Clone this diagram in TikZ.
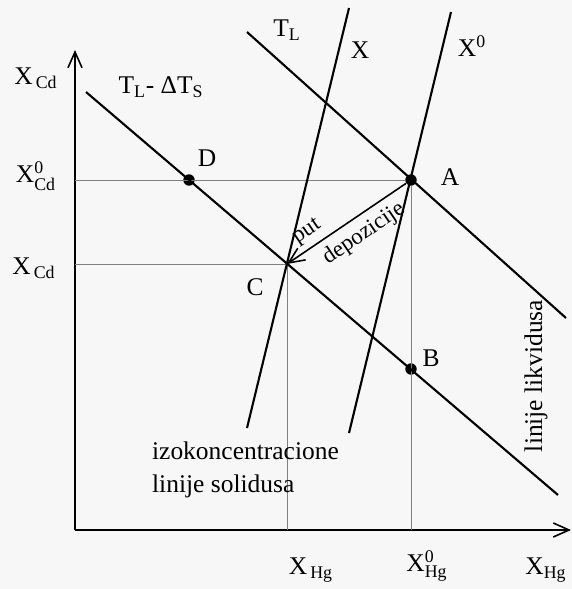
\documentclass[tikz,border=0pt]{standalone}
\usepackage{amsmath}
\usepackage{fontspec}
\setmainfont{Liberation Serif}
\usetikzlibrary{arrows.meta}
\tikzset{
    >={Straight Barb[length=9pt, width=8pt]}, % open arrow heads
    axis/.style={line width=0.9pt, ->},
    isoline/.style={line width=1.2pt}, % the four straight lines
    guide/.style={gray, line width=0.5pt},
    dot/.style={circle, fill, inner sep=0pt, minimum size=6.5pt},
    lbl/.style={font=\fontsize{14.5}{19}\selectfont, inner sep=1pt},
    small/.style={font=\fontsize{13}{15}\selectfont, inner sep=1pt}
}
\newcommand{\Xsb}[2]{X$^{\text{#1}}_{\text{#2}}$}

\begin{document}
\begin{tikzpicture}[x=0.02cm, y=-0.02cm]
    \path[use as bounding box, fill=black!3] (0,0) rectangle (572,589);

    % axes
    \coordinate (O) at (75,530);
    \coordinate (ytip) at (75,50);
    \coordinate (xtip) at (571,530);
    \draw[axis] (O) -- (ytip);
    \draw[axis] (O) -- (xtip);

    % intersection points
    \coordinate (C) at (287,264);
    \node[dot] (A) at (411,180) {};
    \node[dot] (D) at (189,180) {};
    \node[dot] (B) at (411,369) {};

    % guide lines
    \draw[guide] (O |- A) -- (A);
    \draw[guide] (O |- C) -- (C);
    \draw[guide] (C) -- (C |- O);
    \draw[guide] (A) -- (A |- O);

    % line ends
    \coordinate (s1) at (86,92);   \coordinate (s2) at (558,495);
    \coordinate (l1) at (247,32);  \coordinate (l2) at (566,318);
    \coordinate (x1) at (349,8);   \coordinate (x2) at (247,428);
    \coordinate (y1) at (451,12);  \coordinate (y2) at (349,433);
    \draw[isoline] (s1) -- (s2);
    \draw[isoline] (l1) -- (l2);
    \draw[isoline] (x1) -- (x2);
    \draw[isoline] (y1) -- (y2);

    \draw[<-, line width=0.9pt] (C) -- (A)
        node[pos=0.24, sloped, above=2pt, small] {put}
        node[pos=0.56, sloped, below=3pt, small] {depozicije};

    % labels
    \node[lbl] (ycd) at (36,78) {X$_{\text{\,Cd}}$};
    \node[lbl] (ycd0) at (36,176) {\Xsb{0}{Cd}};
    \node[lbl] (ycdc) at (34,268) {X$_{\text{\,Cd}}$};
    \node[lbl] (tsol) at (161,87) {T$_{\text{L}}$- ΔT$_{\text{S}}$};
    \node[lbl] (tliq) at (287,30) {T$_{\text{L}}$};
    \node[lbl] (xl) at (360,50) {X};
    \node[lbl] (x0l) at (472,46) {X$^{\text{0}}$};
    \node[lbl] (Al) at (450,177) {A};
    \node[lbl] (Bl) at (431,358) {B};
    \node[lbl] (Cl) at (255,287) {C};
    \node[lbl] (Dl) at (207,158) {D};
    \node[lbl, rotate=90] (liq) at (536,376) {linije likvidusa};
    \node[lbl, align=left, anchor=west] (sol) at (150,470) {izokoncentracione\\linije solidusa};
    \node[lbl] (xhg) at (311,570) {X$_{\text{\,Hg}}$};
    \node[lbl] (xhg0) at (427,566) {\Xsb{0}{Hg}};
    \node[lbl] (xhgr) at (546,570) {X$_{\text{Hg}}$};
\end{tikzpicture}
\end{document}
